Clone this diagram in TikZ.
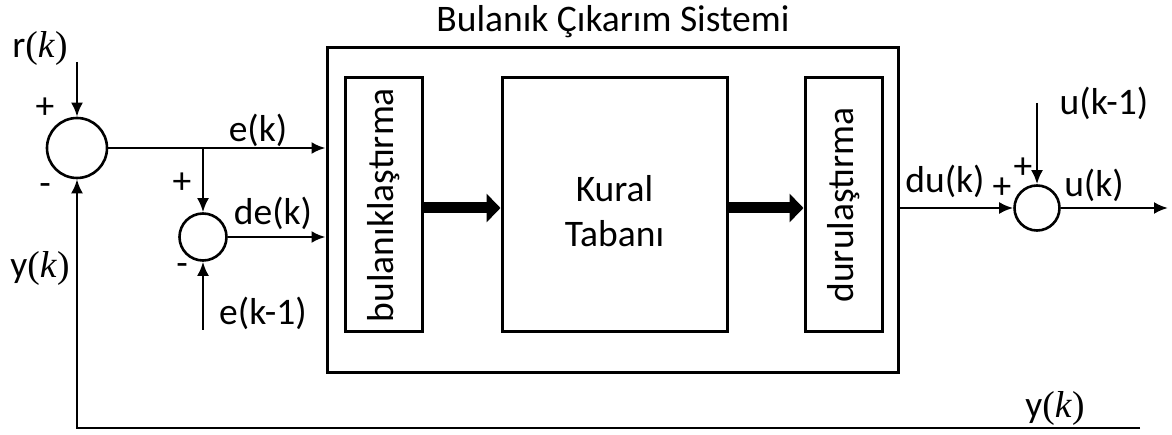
\documentclass[tikz,border=0pt]{standalone}
\usepackage{fontspec}
\setmainfont{Carlito}
\newfontfamily\mserif{Liberation Serif}
\usetikzlibrary{arrows.meta}
\newcommand{\kvar}{{\mserif(\textit{k})}}
\begin{document}
\begin{tikzpicture}[x=1pt,y=-1pt,
  every node/.style={inner sep=0pt, font=\fontsize{37.5}{45}\selectfont},
  sig/.style={line width=2.6pt, -{Latex[length=14pt,width=12pt]}},
  fat/.style={line width=11pt, -{Triangle[length=14pt,width=28pt]}},
  sumnode/.style={circle, draw, line width=2.6pt, minimum size=#1},
  blk/.style={rectangle, draw, line width=3pt},
  lbl/.style={anchor=center}]
\useasboundingbox (0,0) rectangle (1172,435);

% fuzzy inference system and its three blocks
\node[blk, minimum width=571pt, minimum height=324pt] (fis) at (612.5,210) {};
\node[lbl] (title) at (613,22) {Bulanık Çıkarım Sistemi};
\node[blk, minimum width=77pt, minimum height=254pt] (bul) at (383.5,205) {};
\node[blk, minimum width=225pt, minimum height=254pt] (kur) at (614.5,205) {};
\node[blk, minimum width=77pt, minimum height=254pt] (dur) at (843.5,205) {};
\node[align=center] (kurtxt) at (614.5,211) {Kural\\Tabanı};
\node[rotate=90] (bultxt) at (383.5,205) {bulanıklaştırma};
\node[rotate=90] (durtxt) at (843.5,205) {durulaştırma};

\draw[fat] ([yshift=-3pt]bul.east) -- ([yshift=-3pt]kur.west);
\draw[fat] ([yshift=-3pt]kur.east) -- ([yshift=-3pt]dur.west);

% error summing junction
\node[sumnode=60pt] (s1) at (77,148) {};
\coordinate (rin) at (77,62);
\node[lbl] (rlab) at (40,48) {r\kvar};
\node[lbl] (p1) at (45,108) {+};
\node[lbl] (m1) at (45,190) {-};
\node[lbl] (ylab) at (40,268) {y\kvar};
\draw[sig] (rin) -- (s1.north);

% error difference junction
\node[sumnode=47pt] (s2) at (203,237) {};
\coordinate (br) at (203,148);
\coordinate (eprev) at (203,330);
\node[lbl] (elab) at (258,130) {e(k)};
\node[lbl] (delab) at (273,213) {de(k)};
\node[lbl] (eplab) at (263,313) {e(k-1)};
\node[lbl] (p2) at (182,183) {+};
\node[lbl] (m2) at (182,270) {-};
\draw[sig] (s1.east) -- (fis.west |- s1.east);
\draw[sig] (br) -- (s2.north);
\draw[sig] (eprev) -- (s2.south);
\draw[sig] (s2.east) -- (fis.west |- s2.east);

% output summing junction
\node[sumnode=45pt] (s3) at (1037,208) {};
\coordinate (uprev) at (1037,103);
\coordinate (uout) at (1168,208);
\node[lbl] (dulab) at (945,181) {du(k)};
\node[lbl] (p3) at (1002,188) {+};
\node[lbl] (p4) at (1023,168) {+};
\node[lbl] (ulab) at (1094,185) {u(k)};
\node[lbl] (uplab) at (1104,103) {u(k-1)};
\draw[sig] (fis.east |- s3.west) -- (s3.west);
\draw[sig] (uprev) -- (s3.north);
\draw[sig] (s3.east) -- (uout);

% feedback path
\coordinate (yout) at (1140,428);
\node[lbl] (ylab2) at (1055,408) {y\kvar};
\draw[sig] (yout) -- (77,428) -- (s1.south);
\end{tikzpicture}
\end{document}
